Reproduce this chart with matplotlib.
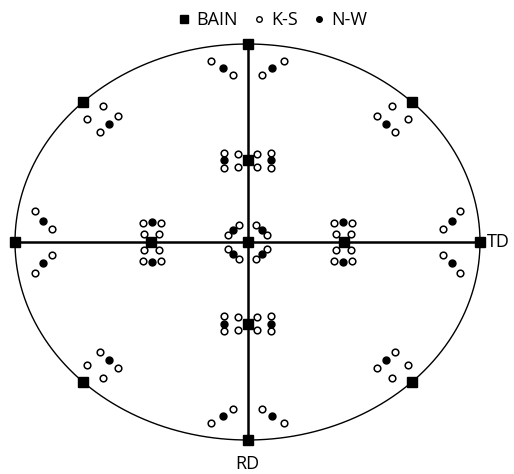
import numpy as np
import matplotlib.pyplot as plt

# {100} poles in stereographic (unit circle) coordinates
bain_x = [0, -1, 1, 0, 0, -0.413, 0.413, 0, 0, -0.708, 0.708, -0.708, 0.708]
bain_y = [0, 0, 0, 1, -1, 0, 0, 0.414, -0.414, 0.706, 0.706, -0.706, -0.706]

ks_x = [
    # edge clusters (top, bottom, left, right)
    -0.155, -0.064, 0.064, 0.155,
    -0.155, -0.064, 0.064, 0.155,
    -0.914, -0.842, -0.842, -0.914,
    0.914, 0.842, 0.842, 0.914,
    # 45 deg clusters
    -0.620, -0.689, -0.557, -0.635,
    0.620, 0.689, 0.557, 0.635,
    -0.620, -0.689, -0.557, -0.635,
    0.620, 0.689, 0.557, 0.635,
    # inner top / bottom
    -0.099, -0.099, -0.043, -0.043, 0.043, 0.043, 0.099, 0.099,
    -0.099, -0.099, -0.043, -0.043, 0.043, 0.043, 0.099, 0.099,
    # inner left / right
    -0.448, -0.373, -0.445, -0.381, -0.445, -0.381, -0.448, -0.373,
    0.448, 0.373, 0.445, 0.381, 0.445, 0.381, 0.448, 0.373,
    # centre
    -0.084, -0.035, 0.035, 0.084, -0.084, -0.035, 0.035, 0.084,
]
ks_y = [
    0.912, 0.843, 0.843, 0.912,
    -0.912, -0.843, -0.843, -0.912,
    0.155, 0.064, -0.064, -0.155,
    0.155, 0.064, -0.064, -0.155,
    0.689, 0.620, 0.635, 0.557,
    0.689, 0.620, 0.635, 0.557,
    -0.689, -0.620, -0.635, -0.557,
    -0.689, -0.620, -0.635, -0.557,
    0.448, 0.373, 0.445, 0.381, 0.445, 0.381, 0.448, 0.373,
    -0.448, -0.373, -0.445, -0.381, -0.445, -0.381, -0.448, -0.373,
    0.098, 0.098, 0.042, 0.042, -0.042, -0.042, -0.098, -0.098,
    0.098, 0.098, 0.042, 0.042, -0.042, -0.042, -0.098, -0.098,
    0.037, 0.084, 0.084, 0.037, -0.037, -0.084, -0.084, -0.037,
]

nw_x = [-0.107, 0.107, -0.107, 0.107, -0.879, -0.879, 0.879, 0.879,
        -0.596, 0.596, -0.596, 0.596,
        -0.099, 0.099, -0.099, 0.099, -0.411, -0.411, 0.411, 0.411,
        -0.061, 0.061, -0.061, 0.061]
nw_y = [0.878, 0.878, -0.878, -0.878, 0.106, -0.106, 0.106, -0.106,
        0.596, 0.596, -0.596, -0.596,
        0.412, 0.412, -0.412, -0.412, 0.099, -0.099, 0.099, -0.099,
        0.061, 0.061, -0.061, -0.061]

fig = plt.figure(figsize=(5.14, 4.74), dpi=100)
ax = fig.add_axes([15 / 514, 34 / 474, 465 / 514, 396 / 474])
ax.set_xlim(-1, 1)
ax.set_ylim(-1, 1)
ax.axis('off')

t = np.linspace(0, 2 * np.pi, 400)
ax.plot(np.cos(t), np.sin(t), color='black', lw=1.0, clip_on=False)
ax.plot([-1, 1], [0, 0], color='black', lw=1.8, clip_on=False)
ax.plot([0, 0], [-1, 1], color='black', lw=1.8, clip_on=False)

ax.plot(bain_x, bain_y, 's', color='black', ms=6.5, clip_on=False, zorder=5)
ax.plot(ks_x, ks_y, 'o', mfc='white', mec='black', mew=1.1, ms=4.8,
        clip_on=False, zorder=5)
ax.plot(nw_x, nw_y, 'o', color='black', ms=5, clip_on=False, zorder=5)

font = ['Open Sans', 'DejaVu Sans']
ax.text(0, -1.075, 'RD', ha='center', va='top', fontsize=13, family=font)
ax.text(1.03, 0, 'TD', ha='left', va='center', fontsize=13, family=font)

leg_ks, = ax.plot([], [], 'o', mfc='white', mec='black', mew=1.0, ms=4)
leg_nw, = ax.plot([], [], 'o', color='black', ms=4)
leg_bain, = ax.plot([], [], 's', color='black', ms=5.5)
fig.legend([leg_bain, leg_ks, leg_nw], ['BAIN', 'K-S', 'N-W'],
           loc='center', bbox_to_anchor=(273 / 514, 1 - 20 / 474), ncol=3,
           frameon=False, handlelength=0.6, handletextpad=0.35,
           columnspacing=0.9, prop={'family': font, 'size': 13})

fig.savefig('out.png', dpi=100)
